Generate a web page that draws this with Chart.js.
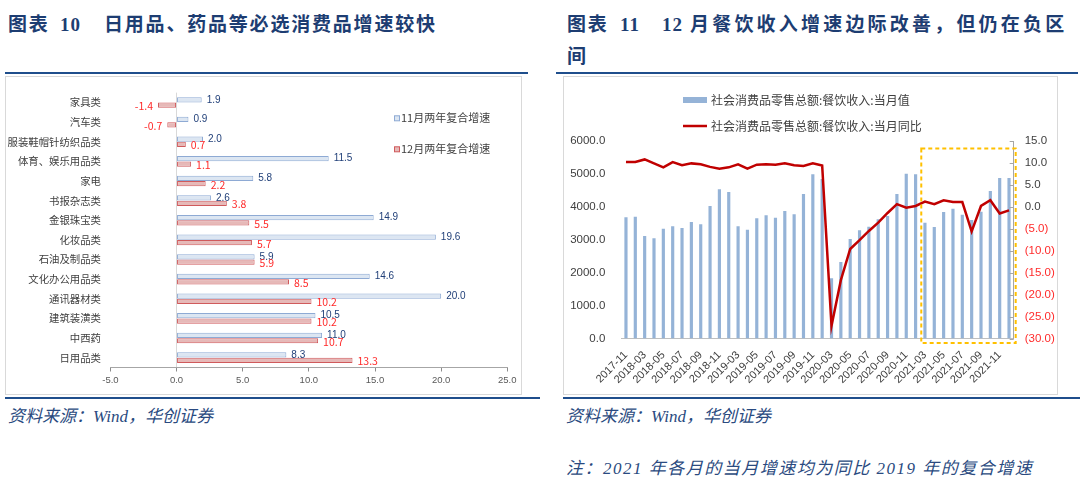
<!DOCTYPE html>
<html><head><meta charset="utf-8">
<script src="https://cdn.jsdelivr.net/npm/chart.js@4.4.1/dist/chart.umd.min.js"></script>
<style>
body{margin:0;width:1080px;height:481px;background:#fff;position:relative;overflow:hidden;font-family:"Noto Sans CJK SC",sans-serif;}
.t{position:absolute;font-family:"Liberation Serif","Noto Sans CJK SC",serif;font-weight:bold;color:#1D3D72;font-size:19px;line-height:24px;white-space:nowrap;}
.rule{position:absolute;height:2px;background:#1F4E8C;}
.frame{position:absolute;border:1px solid #D9D9D9;box-sizing:border-box;}
.src{position:absolute;font-family:"Liberation Serif","Noto Sans CJK SC",serif;font-style:italic;color:#2A4A80;font-size:17px;line-height:22px;white-space:nowrap;}
canvas{position:absolute;}
</style></head>
<body>
<div class="t" style="left:8px;top:13px;letter-spacing:1.8px">图表</div>
<div class="t" style="left:60px;top:13px;letter-spacing:1px">10</div>
<div class="t" style="left:104px;top:13px;letter-spacing:1.8px">日用品、药品等必选消费品增速较快</div>
<div class="rule" style="left:5px;top:72px;width:523px"></div>
<div class="frame" style="left:5px;top:76px;width:517px;height:319px"></div>
<canvas id="c1" width="516" height="317" style="left:6px;top:77px"></canvas>
<div class="rule" style="left:5px;top:397px;width:535px"></div>
<div class="src" style="left:8px;top:406px">资料来源：Wind，华创证券</div>

<div class="t" style="left:567px;top:13px;letter-spacing:1.8px">图表</div>
<div class="t" style="left:620px;top:13px;letter-spacing:1px">11</div>
<div class="t" style="left:662px;top:13px;letter-spacing:1px">12</div>
<div class="t" style="left:690px;top:13px;letter-spacing:3.2px">月餐饮收入增速边际改善，但仍在负区</div>
<div class="t" style="left:567px;top:45px;">间</div>
<div class="rule" style="left:556px;top:72px;width:522px"></div>
<div class="frame" style="left:563px;top:76px;width:495px;height:319px"></div>
<canvas id="c2" width="493" height="317" style="left:564px;top:77px"></canvas>
<div class="rule" style="left:563px;top:397px;width:517px"></div>
<div class="src" style="left:566px;top:406px">资料来源：Wind，华创证券</div>
<div class="src" style="left:566px;top:458px;letter-spacing:1.5px">注：2021 年各月的当月增速均为同比 2019 年的复合增速</div>

<script>
// ---- Left chart data ----
const categories = ['家具类','汽车类','服装鞋帽针纺织品类','体育、娱乐用品类','家电','书报杂志类','金银珠宝类','化妆品类','石油及制品类','文化办公用品类','通讯器材类','建筑装潢类','中西药','日用品类'];
const novGrowth = [1.9,0.9,2.0,11.5,5.8,2.6,14.9,19.6,5.9,14.6,20.0,10.5,11.0,8.3];
const decGrowth = [-1.4,-0.7,0.7,1.1,2.2,3.8,5.5,5.7,5.9,8.5,10.2,10.2,10.7,13.3];
const leftSeriesNames = ['11月两年复合增速','12月两年复合增速'];
const leftXMin = -5, leftXMax = 25, leftXStep = 5;

// ---- Right chart data ----
const months = ['2017-11','2017-12',
 '2018-03','2018-04','2018-05','2018-06','2018-07','2018-08','2018-09','2018-10','2018-11','2018-12',
 '2019-03','2019-04','2019-05','2019-06','2019-07','2019-08','2019-09','2019-10','2019-11','2019-12',
 '2020-03','2020-04','2020-05','2020-06','2020-07','2020-08','2020-09','2020-10','2020-11','2020-12',
 '2021-03','2021-04','2021-05','2021-06','2021-07','2021-08','2021-09','2021-10','2021-11','2021-12'];
const cateringValue = [3682,3700,
 3114,3044,3336,3409,3357,3539,3469,4025,4533,4451,
 3409,3305,3652,3743,3670,3873,3773,4390,4988,4846,
 1829,2324,3023,3287,3396,3621,3722,4390,5006,4988,
 3518,3387,3843,3943,3761,3600,3852,4481,4876,4876];
const cateringYoY = [10.2,10.2,
 10.8,9.9,9.0,10.2,9.5,9.9,9.7,9.1,8.7,9.0,
 9.7,8.7,9.6,9.7,9.6,9.9,9.5,9.3,9.9,9.4,
 -27.1,-16.7,-9.6,-7.6,-5.5,-3.6,-1.4,0.6,-0.2,0.2,
 1.2,0.6,1.5,1.1,1.1,-5.6,0.2,1.5,-1.5,-0.8];
const rightSeriesNames = ['社会消费品零售总额:餐饮收入:当月值','社会消费品零售总额:餐饮收入:当月同比'];
const leftAxis = {min:0,max:6000,step:1000};
const rightAxis = {min:-30,max:15,step:5};
const highlightFrom = '2021-03';

const CJK = '"Noto Sans CJK SC", sans-serif';
const SANS = '"Liberation Sans", Arial, sans-serif';

// value labels for left chart
const barLabels = {
  id:'barLabels',
  afterDatasetsDraw(chart){
    const ctx = chart.ctx;
    const styles = [{color:'#203F78',font:'10px '+SANS},{color:'#FF2A2A',font:'10.5px '+CJK}];
    chart.data.datasets.forEach((ds,di)=>{
      const meta = chart.getDatasetMeta(di);
      ctx.save();
      ctx.fillStyle = styles[di].color; ctx.font = styles[di].font; ctx.textBaseline='middle';
      meta.data.forEach((el,i)=>{
        const v = ds.data[i];
        const t = v.toFixed(1);
        if (v>=0){ctx.textAlign='left'; ctx.fillText(t, el.x+5, el.y+ (di===1?1:0));}
        else {ctx.textAlign='right'; ctx.fillText(t, el.x-5, el.y+1);}
      });
      ctx.restore();
    });
  }
};
const leftLegend = {
  id:'leftLegend',
  afterDraw(chart){
    const ctx = chart.ctx;
    const ys=[41.3,72.3];
    chart.data.datasets.forEach((ds,i)=>{
      ctx.save();
      ctx.fillStyle = ds.backgroundColor; ctx.strokeStyle = ds.borderColor; ctx.lineWidth=1;
      ctx.fillRect(388.5,ys[i]-2.5,5,5); ctx.strokeRect(388.5,ys[i]-2.5,5,5);
      ctx.fillStyle='#404040'; ctx.font='11px '+CJK; ctx.textBaseline='middle'; ctx.textAlign='left';
      ctx.fillText(ds.label,395,ys[i]);
      ctx.restore();
    });
  }
};

new Chart(document.getElementById('c1'),{
  type:'bar',
  data:{labels:categories,datasets:[
    {label:leftSeriesNames[0],data:novGrowth,backgroundColor:'#DCE6F2',borderColor:'#8EAAD4',borderWidth:1,borderSkipped:false,categoryPercentage:0.55,barPercentage:0.97},
    {label:leftSeriesNames[1],data:decGrowth,backgroundColor:'#E6B9B8',borderColor:'#D05A5C',borderWidth:1,borderSkipped:false,categoryPercentage:0.55,barPercentage:0.97}
  ]},
  options:{
    indexAxis:'y',responsive:false,animation:false,
    layout:{padding:{top:14.9,right:14.7,left:0,bottom:0}},
    plugins:{legend:{display:false},tooltip:{enabled:false}},
    scales:{
      x:{min:leftXMin,max:leftXMax,
        ticks:{stepSize:leftXStep,callback:v=>Number(v).toFixed(1),color:'#595959',font:{size:9.5,family:SANS},padding:3},
        grid:{color:c=>(c.tick&&c.tick.value===0)?'#D9D9D9':'rgba(0,0,0,0)',tickColor:'#8C8C8C',tickLength:4,drawOnChartArea:true},
        border:{display:true,color:'#A6A6A6'},
        afterFit:s=>{s.height=26.5}},
      y:{ticks:{color:'#404040',font:{size:10.4,family:CJK},padding:9.4},
        grid:{display:false,drawTicks:false},border:{display:false},
        afterFit:s=>{s.width=104.4}}
    }
  },
  plugins:[barLabels,leftLegend]
});

// right chart plugins
const rightLegend = {
  id:'rightLegend',
  afterDraw(chart){
    const ctx = chart.ctx;
    const ds = chart.data.datasets;
    ctx.save();
    ctx.fillStyle = ds[0].backgroundColor; ctx.fillRect(119,20,24,6);
    ctx.strokeStyle = ds[1].borderColor; ctx.lineWidth=2.5; ctx.beginPath(); ctx.moveTo(119,49); ctx.lineTo(143,49); ctx.stroke();
    ctx.fillStyle='#404040'; ctx.font='12px '+CJK; ctx.textBaseline='middle'; ctx.textAlign='left';
    ctx.fillText(ds[0].label,147,23); ctx.fillText(ds[1].label,147,49);
    ctx.restore();
  }
};
const innerTicks = {
  id:'innerTicks',
  afterDraw(chart){
    const s = chart.scales.y1, ctx = chart.ctx, r = chart.chartArea.right;
    ctx.save(); ctx.strokeStyle='#A6A6A6'; ctx.lineWidth=1;
    s.ticks.forEach(t=>{const y=Math.round(s.getPixelForValue(t.value))+0.5; ctx.beginPath(); ctx.moveTo(r-4,y); ctx.lineTo(r,y); ctx.stroke();});
    ctx.restore();
  }
};
const highlightBox = {
  id:'highlightBox',
  afterDraw(chart){
    const x = chart.scales.x, y1 = chart.scales.y1, ctx = chart.ctx, a = chart.chartArea;
    const i = months.indexOf(highlightFrom);
    const left = (x.getPixelForValue(i-1)+x.getPixelForValue(i))/2 + 1;
    const right = a.right + 2;
    const top = y1.getPixelForValue(13.3);
    const bottom = a.bottom + 4.5;
    ctx.save(); ctx.strokeStyle='#FFC000'; ctx.lineWidth=2; ctx.setLineDash([4,3]);
    ctx.strokeRect(left,top,right-left,bottom-top);
    ctx.restore();
  }
};

new Chart(document.getElementById('c2'),{
  type:'bar',
  data:{labels:months,datasets:[
    {type:'bar',label:rightSeriesNames[0],data:cateringValue,backgroundColor:'#95B3D7',yAxisID:'y',barPercentage:0.34,categoryPercentage:1,order:2},
    {type:'line',label:rightSeriesNames[1],data:cateringYoY,borderColor:'#C00000',backgroundColor:'#C00000',borderWidth:2.5,pointRadius:0,tension:0,yAxisID:'y1',order:1}
  ]},
  options:{
    responsive:false,animation:false,
    layout:{padding:{top:64,right:0,left:0,bottom:0}},
    plugins:{legend:{display:false},tooltip:{enabled:false}},
    scales:{
      x:{offset:true,grid:{display:false},border:{display:true,color:'#BFBFBF'},
        ticks:{autoSkip:false,maxRotation:45,minRotation:45,color:'#404040',font:{size:11,family:SANS},padding:2,
          callback:(v,i)=> i%2===0 ? months[i] : ''},
        afterFit:s=>{s.height=55.5}},
      y:{min:leftAxis.min,max:leftAxis.max,
        ticks:{stepSize:leftAxis.step,callback:v=>Number(v).toFixed(1),color:'#404040',font:{size:11.5,family:SANS},padding:16},
        grid:{display:false,drawTicks:false},border:{display:false},afterFit:s=>{s.width=57.3}},
      y1:{position:'right',min:rightAxis.min,max:rightAxis.max,
        ticks:{stepSize:rightAxis.step,callback:v=> v<0 ? '('+Math.abs(v).toFixed(1)+')' : Number(v).toFixed(1),
          color:c=>c.tick.value<0?'#FF2A2A':'#404040',font:{size:11.5,family:SANS},padding:11},
        grid:{drawOnChartArea:false,drawTicks:false},border:{display:true,color:'#A6A6A6'},
        afterFit:s=>{s.width=43.3}}
    }
  },
  plugins:[rightLegend,innerTicks,highlightBox]
});
</script>
</body></html>
